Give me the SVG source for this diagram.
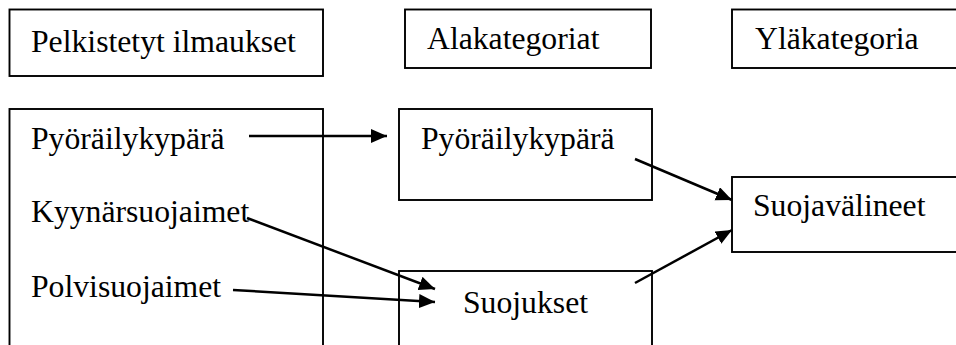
<svg xmlns="http://www.w3.org/2000/svg" width="956" height="345" viewBox="0 0 956 345">
  <defs>
    <style>
      .box { fill: #ffffff; stroke: #000000; stroke-width: 1.9; }
      .lbl { font-family: "Liberation Serif", "Times New Roman", serif; font-size: 31.7px; fill: #000000; }
      .conn { stroke: #000000; stroke-width: 2.5; fill: none; marker-end: url(#arrow); }
    </style>
    <marker id="arrow" markerUnits="userSpaceOnUse" markerWidth="18" markerHeight="16" refX="16" refY="7" orient="auto">
      <path d="M0,0 L16,7 L0,14 Z" fill="#000000"/>
    </marker>
  </defs>
  <rect x="0" y="0" width="956" height="345" fill="#ffffff"/>

  <g id="header-pelkistetyt">
    <rect class="box" x="9.5" y="9.5" width="313.5" height="66.5"/>
    <text class="lbl" x="31" y="51.5">Pelkistetyt ilmaukset</text>
  </g>
  <g id="header-alakategoriat">
    <rect class="box" x="405" y="9.5" width="246" height="58.5"/>
    <text class="lbl" x="427" y="49">Alakategoriat</text>
  </g>
  <g id="header-ylakategoria">
    <rect class="box" x="732" y="9.5" width="240" height="58.5"/>
    <text class="lbl" x="755" y="49">Yläkategoria</text>
  </g>

  <g id="pelkistetyt">
    <rect class="box" x="9.5" y="109" width="313.5" height="260"/>
    <text class="lbl" x="31" y="149">Pyöräilykypärä</text>
    <text class="lbl" x="31" y="222">Kyynärsuojaimet</text>
    <text class="lbl" x="31" y="297">Polvisuojaimet</text>
  </g>
  <g id="ala-pyorailykypara">
    <rect class="box" x="399" y="109" width="253" height="91"/>
    <text class="lbl" x="421" y="149">Pyöräilykypärä</text>
  </g>
  <g id="ala-suojukset">
    <rect class="box" x="399" y="271" width="253" height="100"/>
    <text class="lbl" x="463" y="313">Suojukset</text>
  </g>
  <g id="yla-suojavalineet">
    <rect class="box" x="732" y="177" width="240" height="75"/>
    <text class="lbl" x="753" y="216">Suojavälineet</text>
  </g>

  <g id="connectors">
    <line class="conn" x1="249" y1="136" x2="387" y2="136"/>
    <line class="conn" x1="247" y1="218" x2="435" y2="289"/>
    <line class="conn" x1="233" y1="290" x2="435" y2="302"/>
    <line class="conn" x1="635" y1="159" x2="732" y2="200"/>
    <line class="conn" x1="635" y1="283" x2="732" y2="230"/>
  </g>
</svg>
